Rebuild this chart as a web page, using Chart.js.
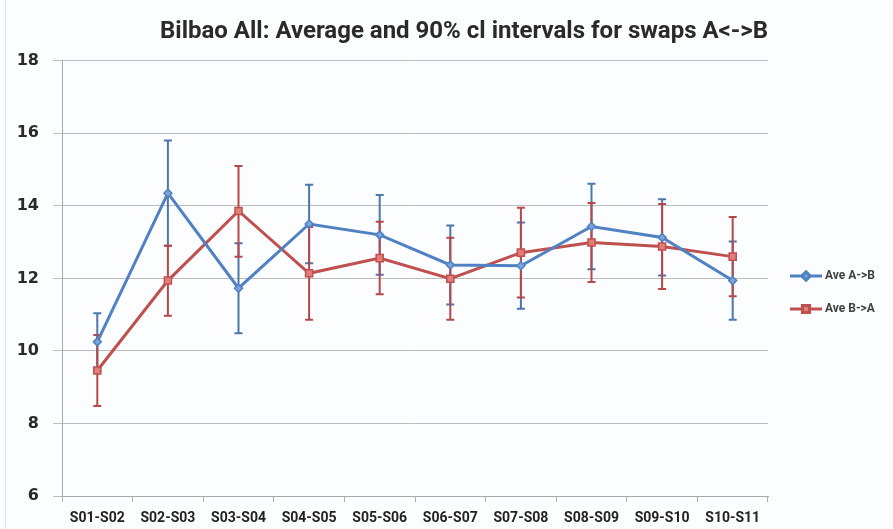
<!DOCTYPE html>
<html>
<head>
<meta charset="utf-8">
<script src="https://cdn.jsdelivr.net/npm/chart.js@4.4.1/dist/chart.umd.min.js"></script>
<style>
  html, body { margin: 0; padding: 0; background: #fbfdfe; }
  #wrap { width: 893px; height: 529px; position: relative; }
</style>
</head>
<body>
<div id="wrap"><canvas id="swapCanvas"></canvas></div>
<script>
var pairLabels = ['S01-S02', 'S02-S03', 'S03-S04', 'S04-S05', 'S05-S06', 'S06-S07', 'S07-S08', 'S08-S09', 'S09-S10', 'S10-S11'];

// Ave A->B with lower / upper 90% cl
var aveAB  = [10.25, 14.35, 11.73, 13.50, 13.20, 12.37, 12.35, 13.43, 13.13, 11.94];
var lowAB  = [9.45, 12.90, 10.49, 12.42, 12.10, 11.28, 11.16, 12.25, 12.08, 10.86];
var highAB = [11.04, 15.80, 12.97, 14.58, 14.30, 13.46, 13.54, 14.61, 14.18, 13.02];

// Ave B->A with lower / upper 90% cl
var aveBA  = [9.46, 11.94, 13.86, 12.14, 12.56, 11.99, 12.71, 12.99, 12.88, 12.60];
var lowBA  = [8.48, 10.97, 12.60, 10.86, 11.56, 10.86, 11.47, 11.90, 11.71, 11.51];
var highBA = [10.44, 12.90, 15.10, 13.42, 13.56, 13.12, 13.95, 14.08, 14.05, 13.69];

var yTicks = [6, 8, 10, 12, 14, 16, 18];

var blueCol = '#4f81c3';
var redCol = '#c0504d';

var bgPlugin = {
    id: 'bgPlugin',
    beforeDraw: function(chart){
        var ctx = chart.ctx;
        ctx.save();
        ctx.fillStyle = '#fbfdfe';
        ctx.fillRect(0, 0, chart.width, chart.height);
        ctx.strokeStyle = '#e2e4e6';
        ctx.lineWidth = 1;
        ctx.beginPath();
        ctx.moveTo(5.5, 0);
        ctx.lineTo(5.5, chart.height);
        ctx.stroke();
        ctx.restore();
    }
};

// vertical error bars, drawn under the lines
var errorBarPlugin = {
    id: 'errorBars',
    beforeDatasetsDraw: function(chart){
        var ctx = chart.ctx;
        var xs = chart.scales.x;
        var ys = chart.scales.y;
        ctx.save();
        chart.data.datasets.forEach(function(ds){
            ctx.strokeStyle = ds.errColor;
            ctx.lineWidth = 2;
            for(var i = 0; i < ds.data.length; i++){
                var x = xs.getPixelForValue(i);
                var yLo = ys.getPixelForValue(ds.errLow[i]);
                var yHi = ys.getPixelForValue(ds.errHigh[i]);
                ctx.beginPath();
                ctx.moveTo(x, yLo);
                ctx.lineTo(x, yHi);
                ctx.moveTo(x - 4, yLo);
                ctx.lineTo(x + 4, yLo);
                ctx.moveTo(x - 4, yHi);
                ctx.lineTo(x + 4, yHi);
                ctx.stroke();
            }
        });
        ctx.restore();
    }
};

// Excel style legend: line with marker, then label
var sideLegend = {
    id: 'sideLegend',
    afterDraw: function(chart){
        var ctx = chart.ctx;
        var x0 = 790, y0 = 276, gap = 33;
        ctx.save();
        chart.data.datasets.forEach(function(ds, k){
            var y = y0 + k * gap;
            ctx.strokeStyle = ds.borderColor;
            ctx.lineWidth = 3;
            ctx.beginPath();
            ctx.moveTo(x0, y);
            ctx.lineTo(x0 + 32, y);
            ctx.stroke();
            Chart.helpers.drawPoint(ctx, {
                pointStyle: ds.pointStyle,
                radius: ds.pointRadius,
                borderWidth: 1.5
            }, x0 + 16, y);
            ctx.fillStyle = ds.pointBackgroundColor;
            ctx.fill();
            ctx.strokeStyle = ds.pointBorderColor;
            ctx.stroke();
            ctx.fillStyle = '#404040';
            ctx.font = 'bold 12px Roboto';
            ctx.textBaseline = 'middle';
            ctx.fillText(ds.label, x0 + 35, y);
        });
        ctx.restore();
    }
};

var config = {
    type: 'line',
    data: {
        labels: pairLabels,
        datasets: [{
            label: 'Ave A->B',
            data: aveAB,
            errLow: lowAB,
            errHigh: highAB,
            errColor: '#4d76ad',
            borderColor: blueCol,
            borderWidth: 3,
            pointStyle: 'rectRot',
            pointRadius: 4,
            pointBackgroundColor: '#7da3d8',
            pointBorderColor: blueCol,
            pointBorderWidth: 1.5,
            tension: 0
        },{
            label: 'Ave B->A',
            data: aveBA,
            errLow: lowBA,
            errHigh: highBA,
            errColor: '#b5494a',
            borderColor: redCol,
            borderWidth: 3,
            pointStyle: 'rect',
            pointRadius: 5,
            pointBackgroundColor: '#e07e7a',
            pointBorderColor: redCol,
            pointBorderWidth: 1.5,
            tension: 0
        }]
    },
    options: {
        responsive: false,
        animation: false,
        devicePixelRatio: 1,
        layout: { padding: { left: 0, right: 125, top: 0, bottom: 0 } },
        plugins: {
            legend: { display: false },
            tooltip: { enabled: false },
            title: {
                display: true,
                align: 'end',
                text: 'Bilbao All: Average and 90% cl intervals for swaps A<->B',
                color: '#2a2a2a',
                font: { family: 'Roboto', size: 24, weight: 'bold' },
                padding: { top: 18, bottom: 14 }
            }
        },
        scales: {
            x: {
                offset: true,
                grid: { display: true, drawOnChartArea: false, drawTicks: true, tickLength: 6, offset: true, color: '#b0b0b0' },
                border: { display: true, color: '#a8a8a8', width: 1 },
                ticks: {
                    color: '#222',
                    padding: 8,
                    maxRotation: 0,
                    autoSkip: false,
                    font: { family: 'Roboto', size: 14, weight: 'bold' }
                },
                afterFit: function(s){ s.height = 33; }
            },
            y: {
                min: 6,
                max: 18,
                afterBuildTicks: function(s){
                    s.ticks = yTicks.map(function(v){ return { value: v }; });
                },
                grid: { color: '#bdbdbd', lineWidth: 1, tickLength: 9 },
                border: { display: true, color: '#a8a8a8', width: 1 },
                ticks: {
                    color: '#2a2a2a',
                    padding: 14,
                    font: { family: 'DejaVu Sans', size: 16, weight: 'bold' }
                },
                afterFit: function(s){ s.width = 62; }
            }
        }
    },
    plugins: [bgPlugin, errorBarPlugin, sideLegend]
};

var cv = document.getElementById('swapCanvas');
cv.width = 893;
cv.height = 529;
new Chart(cv, config);
</script>
</body>
</html>
